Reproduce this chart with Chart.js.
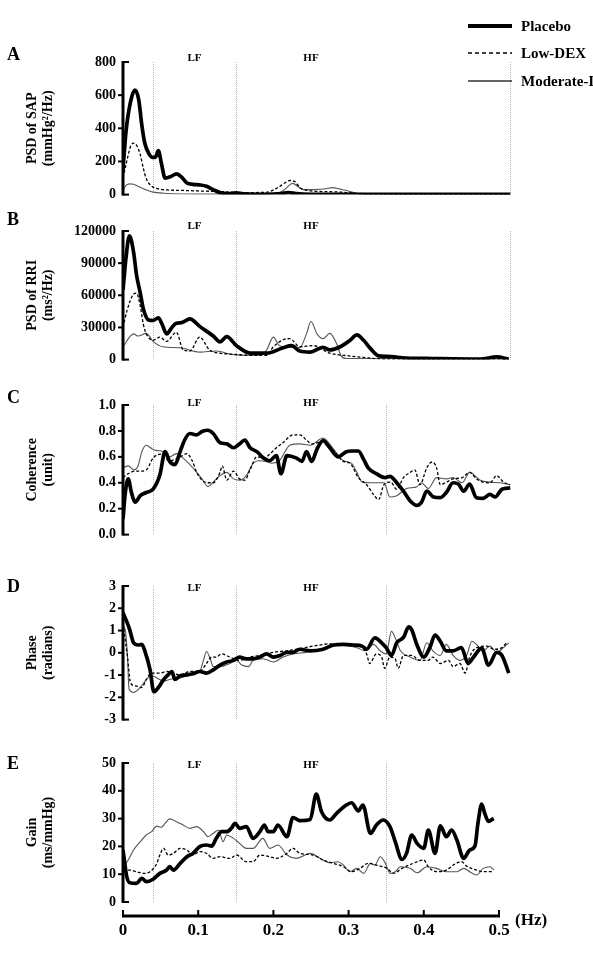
<!DOCTYPE html>
<html>
<head>
<meta charset="utf-8">
<script src="https://cdn.jsdelivr.net/npm/chart.js@4.4.0/dist/chart.umd.min.js"></script>
<style>
  html, body { margin: 0; padding: 0; background: #fff; }
  #fig { position: relative; width: 593px; height: 957px; overflow: hidden;
         font-family: "Liberation Serif", serif; font-weight: bold; color: #000; }
  #fig canvas { position: absolute; left: 0; }
  .tag { position: absolute; left: 7px; font-size: 18px; line-height: 18px; }
  #hz { position: absolute; left: 515px; top: 911px; font-size: 17px; line-height: 17px; }
</style>
</head>
<body>
<div id="fig">
  <canvas id="cA" width="593" height="210" style="top:0px"></canvas>
  <canvas id="cB" width="593" height="165" style="top:210px"></canvas>
  <canvas id="cC" width="593" height="170" style="top:380px"></canvas>
  <canvas id="cD" width="593" height="175" style="top:560px"></canvas>
  <canvas id="cE" width="593" height="217" style="top:740px"></canvas>
  <div class="tag" style="top:45px">A</div>
  <div class="tag" style="top:210px">B</div>
  <div class="tag" style="top:388px">C</div>
  <div class="tag" style="top:577px">D</div>
  <div class="tag" style="top:754px">E</div>
  <div id="hz">(Hz)</div>
</div>
<script>
// series names
const groups = ['Placebo', 'Low-DEX', 'Moderate-DEX'];

// tick labels
const sapTicks = [0, 200, 400, 600, 800];
const rriTicks = [0, 30000, 60000, 90000, 120000];
const cohTicks = [0, 0.2, 0.4, 0.6, 0.8, 1.0];
const phaseTicks = [-3, -2, -1, 0, 1, 2, 3];
const gainTicks = [0, 10, 20, 30, 40, 50];
const hzTicks = [0, 0.1, 0.2, 0.3, 0.4, 0.5];

// band borders (Hz)
const bandsPsd = [0.04, 0.15, 0.515];
const bandsXfer = [0.04, 0.15, 0.35];

// A: PSD of SAP  [Hz, mmHg2/Hz]
const sapPlacebo = [[0,150],[0.004,380],[0.01,560],[0.016,630],[0.021,570],[0.025,420],[0.029,310],[0.034,250],[0.039,225],[0.043,225],[0.047,265],[0.051,190],[0.056,100],[0.064,110],[0.071,125],[0.078,105],[0.085,70],[0.093,62],[0.103,58],[0.111,50],[0.12,30],[0.129,12],[0.14,6],[0.15,10],[0.16,5],[0.19,2],[0.21,6],[0.22,12],[0.23,6],[0.25,2],[0.3,2],[0.35,1],[0.515,1]];
const sapLowDex = [[0,100],[0.005,200],[0.01,290],[0.014,310],[0.019,290],[0.023,240],[0.027,160],[0.031,95],[0.036,60],[0.04,45],[0.05,32],[0.058,28],[0.08,25],[0.1,22],[0.13,18],[0.16,12],[0.19,14],[0.205,40],[0.215,70],[0.222,85],[0.228,80],[0.236,40],[0.25,22],[0.27,18],[0.29,15],[0.31,8],[0.33,3],[0.515,1]];
const sapModDex = [[0,25],[0.004,55],[0.009,65],[0.014,62],[0.02,50],[0.03,30],[0.04,15],[0.055,8],[0.08,4],[0.12,3],[0.18,3],[0.205,8],[0.215,30],[0.222,60],[0.226,68],[0.232,50],[0.24,30],[0.255,30],[0.27,35],[0.278,42],[0.29,32],[0.3,22],[0.31,8],[0.32,2],[0.515,1]];

// B: PSD of RRI  [Hz, ms2/Hz]
const rriPlacebo = [[0,65000],[0.004,95000],[0.0085,115500],[0.014,100500],[0.018,79000],[0.023,62000],[0.027,47500],[0.034,37000],[0.04,36500],[0.047,39000],[0.052,33000],[0.058,24000],[0.065,30000],[0.071,34000],[0.078,34500],[0.089,38000],[0.102,31000],[0.12,22000],[0.129,16500],[0.138,21500],[0.151,13000],[0.169,6000],[0.191,6000],[0.213,11000],[0.224,13000],[0.235,8000],[0.249,7000],[0.266,11500],[0.275,9000],[0.289,12000],[0.302,18000],[0.311,23000],[0.32,18000],[0.329,10500],[0.34,3500],[0.351,3000],[0.377,1500],[0.413,1000],[0.475,500],[0.497,2500],[0.513,500]];
const rriLowDex = [[0,30000],[0.005,45000],[0.014,61000],[0.018,62000],[0.023,50000],[0.027,33000],[0.031,24000],[0.04,18000],[0.049,21000],[0.058,17000],[0.071,25500],[0.08,9000],[0.089,8000],[0.102,21000],[0.115,9000],[0.129,6000],[0.146,5000],[0.169,4000],[0.191,4000],[0.2,12000],[0.215,19000],[0.222,19500],[0.235,12000],[0.253,13000],[0.275,6000],[0.3,3500],[0.32,2000],[0.35,500],[0.513,500]];
const rriModDex = [[0,12000],[0.014,24000],[0.02,22000],[0.031,24500],[0.04,17000],[0.053,12000],[0.076,11000],[0.102,7000],[0.124,8000],[0.147,4500],[0.182,4000],[0.191,9000],[0.2,21000],[0.208,13000],[0.222,11500],[0.235,11000],[0.244,24000],[0.25,35500],[0.258,24000],[0.266,19500],[0.275,24500],[0.284,15000],[0.29,3500],[0.297,1000],[0.513,500]];

// C: Coherence  [Hz, unit]
const cohPlacebo = [[0,0.12],[0.003,0.32],[0.007,0.43],[0.011,0.33],[0.016,0.25],[0.023,0.3],[0.031,0.325],[0.04,0.35],[0.049,0.46],[0.056,0.64],[0.062,0.565],[0.069,0.54],[0.076,0.64],[0.082,0.73],[0.089,0.78],[0.098,0.77],[0.105,0.795],[0.113,0.805],[0.12,0.78],[0.129,0.71],[0.138,0.70],[0.147,0.67],[0.155,0.70],[0.162,0.73],[0.169,0.67],[0.178,0.64],[0.187,0.59],[0.195,0.57],[0.204,0.61],[0.21,0.47],[0.218,0.61],[0.231,0.59],[0.238,0.565],[0.244,0.64],[0.251,0.565],[0.258,0.66],[0.266,0.725],[0.275,0.67],[0.286,0.60],[0.297,0.64],[0.304,0.645],[0.313,0.645],[0.32,0.58],[0.326,0.515],[0.337,0.47],[0.348,0.44],[0.355,0.45],[0.364,0.40],[0.373,0.335],[0.382,0.26],[0.391,0.225],[0.397,0.25],[0.404,0.335],[0.413,0.29],[0.422,0.285],[0.43,0.325],[0.439,0.40],[0.446,0.39],[0.453,0.335],[0.461,0.39],[0.47,0.285],[0.479,0.28],[0.488,0.31],[0.495,0.29],[0.504,0.35],[0.515,0.36]];
const cohLowDex = [[0,0.44],[0.007,0.47],[0.016,0.49],[0.023,0.49],[0.031,0.50],[0.04,0.59],[0.049,0.62],[0.062,0.57],[0.076,0.60],[0.085,0.625],[0.092,0.57],[0.098,0.48],[0.105,0.42],[0.113,0.40],[0.12,0.40],[0.129,0.48],[0.132,0.53],[0.138,0.42],[0.147,0.49],[0.155,0.43],[0.162,0.42],[0.169,0.50],[0.178,0.60],[0.187,0.59],[0.195,0.62],[0.204,0.67],[0.213,0.71],[0.226,0.77],[0.235,0.77],[0.244,0.73],[0.251,0.70],[0.266,0.72],[0.28,0.65],[0.293,0.565],[0.302,0.55],[0.313,0.44],[0.324,0.385],[0.333,0.31],[0.34,0.27],[0.347,0.385],[0.356,0.405],[0.364,0.35],[0.373,0.44],[0.382,0.48],[0.388,0.50],[0.395,0.385],[0.404,0.515],[0.411,0.56],[0.417,0.515],[0.422,0.385],[0.43,0.405],[0.439,0.43],[0.451,0.44],[0.461,0.48],[0.47,0.43],[0.479,0.405],[0.488,0.40],[0.497,0.455],[0.506,0.405],[0.515,0.385]];
const cohModDex = [[0,0.515],[0.007,0.53],[0.014,0.50],[0.02,0.53],[0.025,0.64],[0.031,0.69],[0.038,0.665],[0.044,0.65],[0.053,0.64],[0.062,0.60],[0.071,0.625],[0.08,0.59],[0.089,0.54],[0.098,0.48],[0.105,0.43],[0.113,0.37],[0.12,0.405],[0.129,0.455],[0.138,0.48],[0.147,0.43],[0.155,0.42],[0.164,0.455],[0.173,0.55],[0.18,0.57],[0.19,0.565],[0.198,0.55],[0.208,0.57],[0.222,0.69],[0.235,0.70],[0.249,0.69],[0.266,0.745],[0.28,0.66],[0.293,0.57],[0.304,0.55],[0.311,0.48],[0.318,0.405],[0.329,0.40],[0.347,0.40],[0.355,0.29],[0.364,0.30],[0.377,0.355],[0.391,0.37],[0.397,0.40],[0.406,0.355],[0.417,0.44],[0.43,0.43],[0.439,0.44],[0.451,0.40],[0.461,0.48],[0.475,0.42],[0.488,0.405],[0.502,0.40],[0.515,0.385]];

// D: Phase  [Hz, radians]
const phasePlacebo = [[0,1.8],[0.005,1.4],[0.009,1.03],[0.014,0.45],[0.02,0.35],[0.025,0.38],[0.029,0.09],[0.036,-0.77],[0.041,-1.75],[0.047,-1.56],[0.054,-1.2],[0.06,-0.99],[0.065,-0.84],[0.069,-1.2],[0.076,-1.03],[0.085,-0.99],[0.093,-0.94],[0.102,-0.84],[0.111,-0.91],[0.12,-0.77],[0.129,-0.55],[0.138,-0.41],[0.147,-0.34],[0.155,-0.19],[0.164,-0.27],[0.173,-0.27],[0.182,-0.19],[0.191,-0.05],[0.2,-0.19],[0.209,-0.12],[0.218,0.02],[0.226,0.02],[0.235,0.16],[0.249,0.09],[0.266,0.16],[0.28,0.35],[0.293,0.38],[0.306,0.35],[0.318,0.3],[0.324,0.16],[0.335,0.67],[0.344,0.45],[0.35,0.23],[0.357,-0.12],[0.364,0.45],[0.373,0.69],[0.38,1.16],[0.384,1.03],[0.391,0.35],[0.4,-0.19],[0.408,0.23],[0.415,0.79],[0.422,0.52],[0.43,0.09],[0.439,0.09],[0.45,0.23],[0.459,-0.48],[0.466,-0.2],[0.477,0.21],[0.486,-0.55],[0.497,0.02],[0.504,-0.12],[0.513,-0.91]];
const phaseLowDex = [[0,1.3],[0.006,-0.19],[0.01,-1.35],[0.017,-1.49],[0.025,-1.56],[0.031,-1.2],[0.038,-0.91],[0.049,-0.91],[0.058,-0.84],[0.076,-0.99],[0.089,-0.84],[0.102,-0.84],[0.111,-0.48],[0.118,-0.19],[0.124,-0.19],[0.131,-0.05],[0.142,-0.19],[0.155,-0.34],[0.169,-0.19],[0.182,-0.12],[0.191,-0.05],[0.2,0.02],[0.218,0.09],[0.231,0.16],[0.253,0.3],[0.275,0.4],[0.297,0.4],[0.315,0.3],[0.324,-0.05],[0.328,-0.48],[0.337,-0.05],[0.344,-0.19],[0.348,-0.7],[0.355,-0.19],[0.362,-0.27],[0.366,-0.7],[0.373,-0.12],[0.384,-0.12],[0.395,-0.34],[0.406,-0.34],[0.412,-0.19],[0.422,-0.48],[0.433,-0.34],[0.439,-0.62],[0.448,-0.48],[0.455,-0.91],[0.461,-0.19],[0.47,0.23],[0.484,0.3],[0.493,0.16],[0.504,0.23],[0.51,0.45]];
const phaseModDex = [[0,1.2],[0.003,1.03],[0.006,-0.19],[0.008,-1.63],[0.014,-1.78],[0.023,-1.56],[0.031,-1.2],[0.038,-1.03],[0.045,-1.13],[0.054,-1.27],[0.062,-1.2],[0.076,-1.13],[0.089,-0.99],[0.102,-0.84],[0.107,-0.34],[0.111,0.06],[0.116,-0.27],[0.12,-0.62],[0.129,-0.62],[0.142,-0.48],[0.151,-0.34],[0.158,-0.55],[0.167,-0.62],[0.173,-0.34],[0.186,-0.27],[0.2,-0.41],[0.213,-0.19],[0.226,-0.05],[0.244,0.02],[0.262,0.16],[0.289,0.35],[0.311,0.23],[0.322,0.09],[0.333,0.38],[0.342,0.09],[0.35,-0.05],[0.357,0.96],[0.362,0.67],[0.369,0.09],[0.382,-0.19],[0.395,-0.34],[0.404,0.45],[0.412,0.09],[0.422,-0.12],[0.43,0.38],[0.439,-0.12],[0.448,-0.34],[0.457,-0.12],[0.464,0.52],[0.47,0.38],[0.479,0.09],[0.488,0.3],[0.497,0.02],[0.506,0.23],[0.513,0.45]];

// E: Gain  [Hz, ms/mmHg]
const gainPlacebo = [[0,18.7],[0.003,12.7],[0.005,9.1],[0.009,6.9],[0.018,6.7],[0.025,8.5],[0.031,7.3],[0.04,8.2],[0.049,10.3],[0.058,11.5],[0.062,12.7],[0.067,11.5],[0.076,13.9],[0.085,16.3],[0.093,17.5],[0.102,19.9],[0.111,20.5],[0.118,20.1],[0.124,22.9],[0.131,25.3],[0.138,25.3],[0.144,26.5],[0.149,28.3],[0.155,26.5],[0.164,27.1],[0.173,22.9],[0.182,25.3],[0.188,27.7],[0.193,25.3],[0.2,25.3],[0.206,27.7],[0.218,23.5],[0.226,30.4],[0.235,29.3],[0.249,29.7],[0.257,38.8],[0.264,32.5],[0.275,29.5],[0.284,31.9],[0.297,34.9],[0.304,35.7],[0.313,32.8],[0.319,34.9],[0.329,24.7],[0.337,27.7],[0.346,29.5],[0.355,27.1],[0.362,21.7],[0.371,15.3],[0.377,17.5],[0.384,24.1],[0.391,21.1],[0.4,19.3],[0.406,25.9],[0.415,17.5],[0.422,27.4],[0.43,23.5],[0.437,25.9],[0.444,22.3],[0.453,15.7],[0.461,18.7],[0.468,20.1],[0.472,28.3],[0.477,35.2],[0.481,31.9],[0.486,29.0],[0.493,30.1]];
const gainLowDex = [[0,11.5],[0.009,11.5],[0.018,10.9],[0.027,10.3],[0.036,10.9],[0.045,13.9],[0.049,16.9],[0.054,19.3],[0.06,16.9],[0.067,17.5],[0.076,19.3],[0.085,18.7],[0.093,16.9],[0.102,18.1],[0.111,17.5],[0.12,15.7],[0.129,16.3],[0.142,15.7],[0.151,16.9],[0.164,14.5],[0.173,14.5],[0.182,16.9],[0.195,16.3],[0.204,15.7],[0.218,17.5],[0.226,19.3],[0.235,17.5],[0.253,16.9],[0.266,15.1],[0.28,13.9],[0.293,12.7],[0.304,10.9],[0.315,12.1],[0.326,13.9],[0.337,13.3],[0.351,12.1],[0.36,10.3],[0.371,12.1],[0.386,13.9],[0.4,15.1],[0.406,12.7],[0.417,10.9],[0.43,11.5],[0.441,13.6],[0.45,14.5],[0.457,12.9],[0.47,11.5],[0.479,10.9],[0.493,10.9]];
const gainModDex = [[0,12.7],[0.007,15.1],[0.014,18.7],[0.023,21.7],[0.031,24.1],[0.038,25.3],[0.045,27.3],[0.051,26.9],[0.056,28.3],[0.062,29.9],[0.071,28.9],[0.08,27.7],[0.089,26.5],[0.098,27.1],[0.107,25.3],[0.113,23.5],[0.12,24.7],[0.127,25.9],[0.133,21.7],[0.138,24.1],[0.147,22.9],[0.155,21.1],[0.164,19.3],[0.173,19.3],[0.186,22.9],[0.195,19.3],[0.206,20.5],[0.218,16.9],[0.231,15.7],[0.249,17.5],[0.262,15.7],[0.275,14.1],[0.286,14.5],[0.293,13.3],[0.302,10.9],[0.311,12.1],[0.32,10.3],[0.329,13.9],[0.335,13.3],[0.342,16.3],[0.349,13.9],[0.355,10.3],[0.362,10.9],[0.369,12.7],[0.382,12.1],[0.391,10.5],[0.404,12.7],[0.417,12.1],[0.43,10.9],[0.444,10.9],[0.453,12.1],[0.461,10.9],[0.47,9.7],[0.479,12.1],[0.488,12.7],[0.493,11.5]];

const serif = 'Liberation Serif';
const lineStyles = [
  { borderColor: '#000', borderWidth: 3.7, borderDash: [] },
  { borderColor: '#000', borderWidth: 1.3, borderDash: [3, 2] },
  { borderColor: '#555', borderWidth: 1.1, borderDash: [] }
];

// band lines, LF/HF labels, axis lines with ticks, legend
const decor = {
  id: 'decor',
  beforeDatasetsDraw(chart, args, opts) {
    const { ctx, chartArea: a, scales: { x } } = chart;
    ctx.save();
    ctx.strokeStyle = '#b4b4b4';
    ctx.lineWidth = 1;
    ctx.setLineDash([1, 1]);
    opts.bands.forEach(v => {
      const px = Math.round(x.getPixelForValue(v)) + 0.5;
      ctx.beginPath();
      ctx.moveTo(px, a.top);
      ctx.lineTo(px, a.bottom);
      ctx.stroke();
    });
    ctx.setLineDash([]);
    ctx.fillStyle = '#000';
    ctx.font = 'bold 11px "' + serif + '"';
    ctx.textAlign = 'center';
    ctx.textBaseline = 'middle';
    ctx.fillText('LF', x.getPixelForValue((opts.bands[0] + opts.bands[1]) / 2), a.top + opts.labelDy);
    ctx.fillText('HF', x.getPixelForValue(0.25), a.top + opts.labelDy);
    ctx.restore();
  },
  afterDraw(chart, args, opts) {
    const { ctx, chartArea: a, scales: { x, y } } = chart;
    ctx.save();
    ctx.strokeStyle = '#000';
    ctx.lineCap = 'butt';
    // y axis: outward ticks, end caps pointing right
    const yTop = y.getPixelForValue(y.max), yBot = y.getPixelForValue(y.min);
    ctx.lineWidth = 3;
    ctx.beginPath();
    ctx.moveTo(a.left, yTop - 1);
    ctx.lineTo(a.left, yBot + 1);
    ctx.stroke();
    ctx.lineWidth = 2;
    y.ticks.forEach(t => {
      const py = y.getPixelForValue(t.value);
      const cap = t.value === y.max || t.value === y.min;
      ctx.beginPath();
      ctx.moveTo(cap ? a.left : a.left - 5, py);
      ctx.lineTo(cap ? a.left + 6 : a.left, py);
      ctx.stroke();
    });
    // x axis (panel E only)
    if (opts.xAxis) {
      const py = a.bottom + 14;
      ctx.lineWidth = 3;
      ctx.beginPath();
      ctx.moveTo(x.getPixelForValue(x.min) - 1, py);
      ctx.lineTo(x.getPixelForValue(x.max) + 1, py);
      ctx.stroke();
      ctx.lineWidth = 2;
      x.ticks.forEach(t => {
        const px = x.getPixelForValue(t.value);
        ctx.beginPath();
        ctx.moveTo(px, py);
        ctx.lineTo(px, py - 6);
        ctx.stroke();
      });
    }
    // legend (panel A only)
    if (opts.legend) {
      const rows = [26, 53, 81];
      chart.data.datasets.forEach((ds, i) => {
        ctx.strokeStyle = ds.borderColor === '#555' ? '#333' : ds.borderColor;
        ctx.lineWidth = i === 0 ? 4 : 1.5;
        ctx.setLineDash(i === 1 ? [4, 3] : []);
        ctx.beginPath();
        ctx.moveTo(468, rows[i]);
        ctx.lineTo(512, rows[i]);
        ctx.stroke();
        ctx.setLineDash([]);
        ctx.fillStyle = '#000';
        ctx.font = 'bold 15px "' + serif + '"';
        ctx.textAlign = 'left';
        ctx.textBaseline = 'middle';
        ctx.fillText(ds.label, 521, rows[i] + 1);
      });
    }
    ctx.restore();
  }
};

function makePanel(id, cfg) {
  const datasets = cfg.series.map((s, i) => Object.assign({
    label: groups[i],
    data: s.map(([x, y]) => ({ x, y })),
    pointRadius: 0,
    fill: false,
    cubicInterpolationMode: 'monotone'
  }, lineStyles[i]));
  const tickFont = { family: serif, size: 14, weight: 'bold' };
  new Chart(document.getElementById(id), {
    type: 'line',
    data: { datasets },
    plugins: [decor],
    options: {
      responsive: false,
      animation: false,
      layout: { padding: cfg.padding },
      plugins: {
        legend: { display: false },
        tooltip: { enabled: false },
        decor: { bands: cfg.bands, labelDy: cfg.labelDy, xAxis: !!cfg.xAxis, legend: !!cfg.legend }
      },
      scales: {
        x: {
          type: 'linear',
          min: 0,
          max: cfg.xMax,
          display: !!cfg.xAxis,
          afterBuildTicks: s => { s.ticks = hzTicks.map(v => ({ value: v })); },
          afterFit: s => { if (cfg.xAxis) s.height = 45; },
          grid: { display: false, drawTicks: false },
          border: { display: false },
          ticks: {
            font: { family: serif, size: 17, weight: 'bold' },
            color: '#000',
            padding: 18,
            maxRotation: 0,
            autoSkip: false,
            callback: v => (v === 0 ? '0' : v.toFixed(1))
          }
        },
        y: {
          min: cfg.ticks[0],
          max: cfg.ticks[cfg.ticks.length - 1],
          afterBuildTicks: s => { s.ticks = cfg.ticks.map(v => ({ value: v })); },
          afterFit: s => { s.width = 123; },
          grid: { display: false, drawTicks: false },
          border: { display: false },
          ticks: { font: tickFont, color: '#000', padding: 7, autoSkip: false, callback: cfg.fmt || (v => String(v)) },
          title: {
            display: true,
            text: cfg.title,
            color: '#000',
            font: { family: serif, size: 14, weight: 'bold', lineHeight: 1.2 },
            padding: { top: 23.5, bottom: 0 }
          }
        }
      }
    }
  });
}

makePanel('cA', {
  series: [sapPlacebo, sapLowDex, sapModDex], ticks: sapTicks, bands: bandsPsd, xMax: 0.52,
  padding: { top: 62, bottom: 12, left: 0, right: 79 }, labelDy: -4,
  title: ['PSD of SAP', '(mmHg\u00B2/Hz)'], legend: true
});
makePanel('cB', {
  series: [rriPlacebo, rriLowDex, rriModDex], ticks: rriTicks, bands: bandsPsd, xMax: 0.52,
  padding: { top: 21, bottom: 8, left: 0, right: 79 }, labelDy: -5,
  title: ['PSD of RRI', '(ms\u00B2/Hz)']
});
makePanel('cC', {
  series: [cohPlacebo, cohLowDex, cohModDex], ticks: cohTicks, bands: bandsXfer, xMax: 0.52,
  padding: { top: 25, bottom: 7, left: 0, right: 79 }, labelDy: -2,
  title: ['Coherence', '(unit)'], fmt: v => v.toFixed(1)
});
makePanel('cD', {
  series: [phasePlacebo, phaseLowDex, phaseModDex], ticks: phaseTicks, bands: bandsXfer, xMax: 0.52,
  padding: { top: 26, bottom: 10, left: 0, right: 79 }, labelDy: 2,
  title: ['Phase', '(radians)']
});
makePanel('cE', {
  series: [gainPlacebo, gainLowDex, gainModDex], ticks: gainTicks, bands: bandsXfer, xMax: 0.5,
  padding: { top: 23, bottom: 10, left: 0, right: 94 }, labelDy: 2,
  title: ['Gain', '(ms/mmHg)'], xAxis: true
});
</script>
</body>
</html>
